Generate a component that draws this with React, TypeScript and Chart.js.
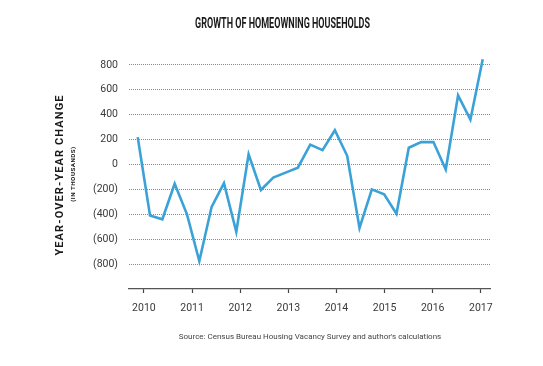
import React, { useEffect, useRef } from "react";
import { Chart, registerables } from "chart.js";

Chart.register(...registerables);

// Year-over-year change in homeowning households (thousands), quarterly
const yoyChange = [
  220, -410, -440, -155, -400, -775, -340, -150, -540, 82,
  -205, -105, -65, -25, 160, 115, 275, 70, -510, -200,
  -240, -395, 135, 180, 180, -40, 555, 360, 845,
];
const yearLabels = [2010, 2011, 2012, 2013, 2014, 2015, 2016, 2017];
const yTicks = [-1000, -800, -600, -400, -200, 0, 200, 400, 600, 800, 1000];

const TICK_FONT = { family: "Roboto, 'Liberation Sans', sans-serif", size: 10.5 };
const TITLE_WIDTH = 175;

export default function App() {
  const ref = useRef<HTMLCanvasElement | null>(null);
  const titleRef = useRef<HTMLSpanElement | null>(null);

  useEffect(() => {
    if (titleRef.current) {
      const w = titleRef.current.getBoundingClientRect().width;
      if (w > 0) titleRef.current.style.transform = `scaleX(${TITLE_WIDTH / w})`;
    }
    if (!ref.current) return;
    const chart = new Chart(ref.current, {
      type: "line",
      data: {
        datasets: [
          {
            data: yoyChange.map((v, i) => ({ x: i, y: v })),
            borderColor: "#3aa2d6",
            borderWidth: 2.6,
            pointRadius: 0,
            tension: 0,
            xAxisID: "x",
            yAxisID: "y",
          },
        ],
      },
      options: {
        responsive: false,
        animation: false,
        layout: { padding: { top: 40, right: 53, left: 0, bottom: 0 } },
        plugins: { legend: { display: false }, tooltip: { enabled: false }, title: { display: false } },
        scales: {
          x: { type: "linear", display: false, min: -0.706, max: 28.59 },
          x2: {
            type: "linear",
            position: "bottom",
            min: 2009.69,
            max: 2017.19,
            afterBuildTicks: (axis: any) => {
              axis.ticks = yearLabels.map((v) => ({ value: v }));
            },
            ticks: {
              callback: (v: any) => String(v),
              font: TICK_FONT,
              color: "#3a3a3a",
              padding: 9,
              maxRotation: 0,
              autoSkip: false,
            },
            grid: {
              drawOnChartArea: false,
              drawTicks: true,
              tickLength: 4,
              tickColor: "#444",
              tickWidth: 1.2,
            },
            border: { display: true, color: "#555", width: 1.2 },
            afterFit: (s: any) => {
              s.height = 77;
            },
          },
          y: {
            type: "linear",
            min: -1000,
            max: 1000,
            afterBuildTicks: (axis: any) => {
              axis.ticks = yTicks.map((v) => ({ value: v }));
            },
            ticks: {
              callback: (v: any) => {
                const n = Number(v);
                if (Math.abs(n) >= 1000) return null;
                return n < 0 ? `(${-n})` : String(n);
              },
              font: TICK_FONT,
              color: "#3a3a3a",
              padding: 11,
            },
            grid: {
              drawTicks: false,
              color: "#8a8a8a",
              lineWidth: 1,
            },
            border: { display: false, dash: [1, 1] },
            afterFit: (s: any) => {
              s.width = 129;
            },
          },
        },
      },
    });
    return () => chart.destroy();
  }, []);

  return (
    <div style={{ position: "absolute", left: 0, top: 0, width: 543, height: 366, background: "#fff", overflow: "hidden" }}>
      <canvas ref={ref} width={543} height={366} style={{ position: "absolute", left: 0, top: 0, width: 543, height: 366 }} />
      <div style={{ position: "absolute", left: 195, top: 14 }}>
        <span
          ref={titleRef}
          style={{
            display: "inline-block",
            transformOrigin: "0 0",
            fontFamily: "Roboto, 'Liberation Sans', sans-serif",
            fontWeight: 700,
            fontSize: 15,
            color: "#1a1a1a",
            whiteSpace: "nowrap",
            lineHeight: "15px",
          }}
        >
          GROWTH OF HOMEOWNING HOUSEHOLDS
        </span>
      </div>
      <div
        style={{
          position: "absolute",
          left: 60,
          top: 175,
          transform: "translate(-50%, -50%) rotate(-90deg)",
          fontFamily: "Roboto, 'Liberation Sans', sans-serif",
          fontWeight: 700,
          fontSize: 11,
          letterSpacing: 1.1,
          color: "#1a1a1a",
          whiteSpace: "nowrap",
          lineHeight: "12px",
        }}
      >
        YEAR-OVER-YEAR CHANGE
      </div>
      <div
        style={{
          position: "absolute",
          left: 73,
          top: 174,
          transform: "translate(-50%, -50%) rotate(-90deg)",
          fontFamily: "Roboto, 'Liberation Sans', sans-serif",
          fontWeight: 700,
          fontSize: 6.2,
          letterSpacing: 0.5,
          color: "#1a1a1a",
          whiteSpace: "nowrap",
          lineHeight: "7px",
        }}
      >
        (IN THOUSANDS)
      </div>
      <div
        style={{
          position: "absolute",
          left: 310,
          top: 337,
          transform: "translate(-50%, -50%)",
          fontFamily: "Roboto, 'Liberation Sans', sans-serif",
          fontSize: 8,
          color: "#444",
          whiteSpace: "nowrap",
          lineHeight: "10px",
        }}
      >
        Source: Census Bureau Housing Vacancy Survey and author's calculations
      </div>
    </div>
  );
}
